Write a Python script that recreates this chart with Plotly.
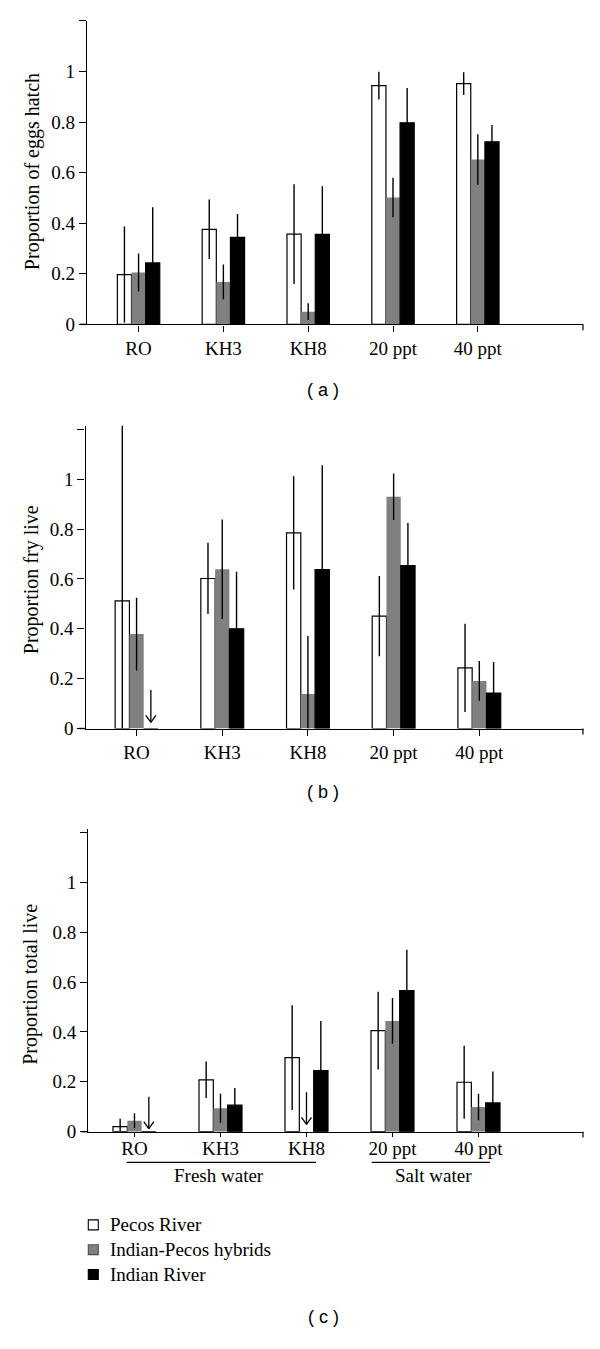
import plotly.graph_objects as go

# ---------------- data ----------------
categories = ["RO", "KH3", "KH8", "20 ppt", "40 ppt"]
series_names = ["Pecos River", "Indian-Pecos hybrids", "Indian River"]
series_fill = ["#ffffff", "#808080", "#000000"]
series_line = ["#000000", "#808080", "#000000"]
legend_edge = ["#000000", "#4d4d4d", "#000000"]

# (a) proportion of eggs hatch
eggs_pecos = [0.197, 0.376, 0.357, 0.944, 0.952]
eggs_pecos_err = [0.19, 0.118, 0.197, 0.055, 0.045]
eggs_hybrid = [0.205, 0.168, 0.050, 0.502, 0.652]
eggs_hybrid_err = [0.075, 0.069, 0.033, 0.078, 0.10]
eggs_indian = [0.243, 0.344, 0.356, 0.797, 0.722]
eggs_indian_err = [0.22, 0.092, 0.19, 0.138, 0.066]

# (b) proportion fry live
fry_pecos = [0.512, 0.602, 0.785, 0.451, 0.243]
fry_pecos_err = [0.75, 0.143, 0.227, 0.161, 0.177]
fry_hybrid = [0.379, 0.639, 0.138, 0.930, 0.191]
fry_hybrid_err = [0.146, 0.20, 0.233, 0.093, 0.08]
fry_indian = [0.0, 0.40, 0.638, 0.654, 0.142]
fry_indian_err = [0.0, 0.229, 0.418, 0.171, 0.125]

# (c) proportion total live
total_pecos = [0.02, 0.208, 0.297, 0.405, 0.198]
total_pecos_err = [0.032, 0.073, 0.21, 0.156, 0.146]
total_hybrid = [0.044, 0.094, 0.0, 0.444, 0.099]
total_hybrid_err = [0.03, 0.058, 0.0, 0.092, 0.053]
total_indian = [0.0, 0.106, 0.245, 0.566, 0.115]
total_indian_err = [0.0, 0.069, 0.199, 0.163, 0.126]

# zero-valued groups marked with a downward arrow: (category, series index, arrow top, arrow tip)
fry_arrows = [("RO", 2, 0.154, 0.025)]
total_arrows = [("RO", 2, 0.140, 0.012), ("KH8", 1, 0.158, 0.029)]

y_titles = ["Proportion of eggs hatch", "Proportion fry live", "Proportion total live"]
panel_tags = ["( a )", "( b )", "( c )"]
group_labels = ["Fresh water", "Salt water"]

# ---------------- layout geometry (page pixels) ----------------
PAGE_OFF = 8                      # default body margin of the html page (all sides)
W, H = 600 - 2 * PAGE_OFF, 1349 - 2 * PAGE_OFF
SERIF = "Liberation Serif, Times New Roman, serif"
SANS = "Liberation Sans, Arial, sans-serif"
FS = 19
FS_TITLE = 20
BARGAP = 0.5
RIGHT = 583


def X(p):
    return (p - PAGE_OFF) / W


def Y(p):
    return 1 - (p - PAGE_OFF) / H


panels = [
    dict(vals=[eggs_pecos, eggs_hybrid, eggs_indian],
         errs=[eggs_pecos_err, eggs_hybrid_err, eggs_indian_err],
         left=87, bottom=327, top=21, ymax=1.2, xr=[-0.608, 5.24], arrows=[],
         title_x=32.5, title_y=173, tag_y=393, xticklen=6.5, standoff=0),
    dict(vals=[fry_pecos, fry_hybrid, fry_indian],
         errs=[fry_pecos_err, fry_hybrid_err, fry_indian_err],
         left=85.5, bottom=734.5, top=429.2, ymax=1.215, xr=[-0.596, 5.21], arrows=fry_arrows,
         title_x=31, title_y=585, tag_y=799, xticklen=6.5, standoff=0),
    dict(vals=[total_pecos, total_hybrid, total_indian],
         errs=[total_pecos_err, total_hybrid_err, total_indian_err],
         left=88.3, bottom=1141, top=835.5, ymax=1.215, xr=[-0.537, 5.215], arrows=total_arrows,
         title_x=31, title_y=993, tag_y=1328, xticklen=4, standoff=-5),
]

fig = go.Figure()
shapes = []
annotations = []
layout_axes = {}

for k, pnl in enumerate(panels):
    n = "" if k == 0 else str(k + 1)
    xa, ya = "x" + n, "y" + n
    for s in range(3):
        vals = pnl["vals"][s]
        errs = pnl["errs"][s]
        fig.add_trace(go.Bar(
            x=categories, y=vals, name=series_names[s],
            xaxis=xa, yaxis=ya,
            marker=dict(color=series_fill[s],
                        line=dict(color=series_line[s], width=1.2 if s != 1 else 0)),
            error_y=dict(type="data", array=errs,
                         arrayminus=[min(e, v) for e, v in zip(errs, vals)],
                         color="#000000", thickness=1.4, width=0, visible=True),
            showlegend=False, hoverinfo="skip",
        ))
    layout_axes["xaxis" + n] = dict(
        domain=[X(pnl["left"]), X(RIGHT)], anchor=ya, type="category",
        categoryorder="array", categoryarray=categories,
        range=pnl["xr"], showline=True, linecolor="#000", linewidth=1.4,
        ticks="outside", ticklen=pnl["xticklen"], tickwidth=1.2, tickcolor="#000",
        ticklabelstandoff=pnl["standoff"],
        showgrid=False, zeroline=False, fixedrange=True,
        tickfont=dict(family=SERIF, size=FS, color="#000"),
    )
    layout_axes["yaxis" + n] = dict(
        domain=[Y(pnl["bottom"]), Y(pnl["top"])], anchor=xa,
        range=[0, pnl["ymax"]], showline=True, linecolor="#000", linewidth=1.4,
        ticks="outside", ticklen=7, tickwidth=1.2, tickcolor="#000",
        tickvals=[0, 0.2, 0.4, 0.6, 0.8, 1.0, 1.2],
        ticktext=["0", "0.2", "0.4", "0.6", "0.8", "1", ""],
        showgrid=False, zeroline=False, fixedrange=True,
        tickfont=dict(family=SERIF, size=FS, color="#000"),
    )
    # small stub of x axis left of the y axis, and the end tick at the right
    hpx = pnl["bottom"] - pnl["top"]
    shapes.append(dict(type="line", xref="paper", yref=ya + " domain",
                       x0=X(pnl["left"] - 7), x1=X(pnl["left"]), y0=0, y1=0,
                       line=dict(color="#000", width=1.4)))
    shapes.append(dict(type="line", xref="paper", yref=ya + " domain",
                       x0=X(RIGHT), x1=X(RIGHT), y0=0, y1=-6 / hpx,
                       line=dict(color="#000", width=1.2)))
    # arrows for zero values
    span = pnl["xr"][1] - pnl["xr"][0]
    unit_px = (RIGHT - pnl["left"]) / span
    ypx = hpx / pnl["ymax"]
    bw = (1 - BARGAP) / 3
    for cat, s, top, tip in pnl["arrows"]:
        xc = categories.index(cat) + (s - 1) * bw
        dx = 5 / unit_px
        dy = 7 / ypx
        for x0, y0 in [(xc, top), (xc - dx, tip + dy), (xc + dx, tip + dy)]:
            shapes.append(dict(type="line", xref=xa, yref=ya, x0=x0, x1=xc, y0=y0, y1=tip,
                               line=dict(color="#000", width=1.3)))
    # y axis title
    annotations.append(dict(text=y_titles[k], xref="paper", yref="paper",
                            x=X(pnl["title_x"]), y=Y(pnl["title_y"]),
                            xanchor="center", yanchor="middle",
                            textangle=-90, showarrow=False,
                            font=dict(family=SERIF, size=FS_TITLE, color="#000")))
    # panel tag
    annotations.append(dict(text=panel_tags[k], xref="paper", yref="paper",
                            x=X(323), y=Y(pnl["tag_y"]), xanchor="center", yanchor="middle",
                            showarrow=False, font=dict(family=SANS, size=18, color="#000")))

# group brackets under panel c
brackets = [(group_labels[0], 126.7, 316, 219), (group_labels[1], 371.7, 490, 433)]
for label, x0, x1, xt in brackets:
    shapes.append(dict(type="line", xref="paper", yref="paper",
                       x0=X(x0), x1=X(x1), y0=Y(1172), y1=Y(1172),
                       line=dict(color="#000", width=1.3)))
    annotations.append(dict(text=label, xref="paper", yref="paper",
                            x=X(xt), y=Y(1185), xanchor="center", yanchor="middle",
                            showarrow=False, font=dict(family=SERIF, size=FS, color="#000")))

# legend (key squares + series names)
legend_rows = [1235, 1260, 1285]
for s, name in enumerate(series_names):
    yc = legend_rows[s]
    shapes.append(dict(type="rect", xref="paper", yref="paper",
                       x0=X(88.3), x1=X(98.3), y0=Y(yc - 5), y1=Y(yc + 5),
                       fillcolor=series_fill[s], line=dict(color=legend_edge[s], width=1.1)))
    annotations.append(dict(text=name, xref="paper", yref="paper",
                            x=X(108), y=Y(yc), xanchor="left", yanchor="middle",
                            showarrow=False, font=dict(family=SERIF, size=FS, color="#000")))

fig.update_layout(
    width=W, height=H,
    margin=dict(l=0, r=0, t=0, b=0),
    paper_bgcolor="#ffffff", plot_bgcolor="#ffffff",
    barmode="group", bargap=BARGAP, bargroupgap=0,
    showlegend=False,
    shapes=shapes, annotations=annotations,
    **layout_axes,
)

fig.write_html("out.html")
